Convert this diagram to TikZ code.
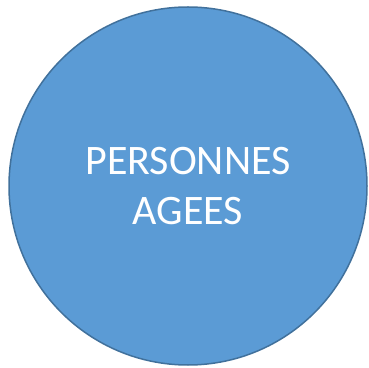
\documentclass[tikz,border=0pt]{standalone}
\usepackage{fontspec}
\setmainfont{Carlito}
\definecolor{cerclebleu}{HTML}{5B9BD5}
\definecolor{bordbleu}{HTML}{41719C}
\begin{document}
\begin{tikzpicture}[line join = round, line cap=round,x=1pt,y=1pt]
			\useasboundingbox (0,0) rectangle (369,367);
			%Cercle
			\node[circle,draw=bordbleu,fill=cerclebleu,line width=1.5pt,minimum size=358pt,inner sep=0pt,
			text=white,align=center,font=\fontsize{42}{50}\selectfont] (personnes) at (188,181) {PERSONNES\\AGEES};
		\end{tikzpicture}
\end{document}
